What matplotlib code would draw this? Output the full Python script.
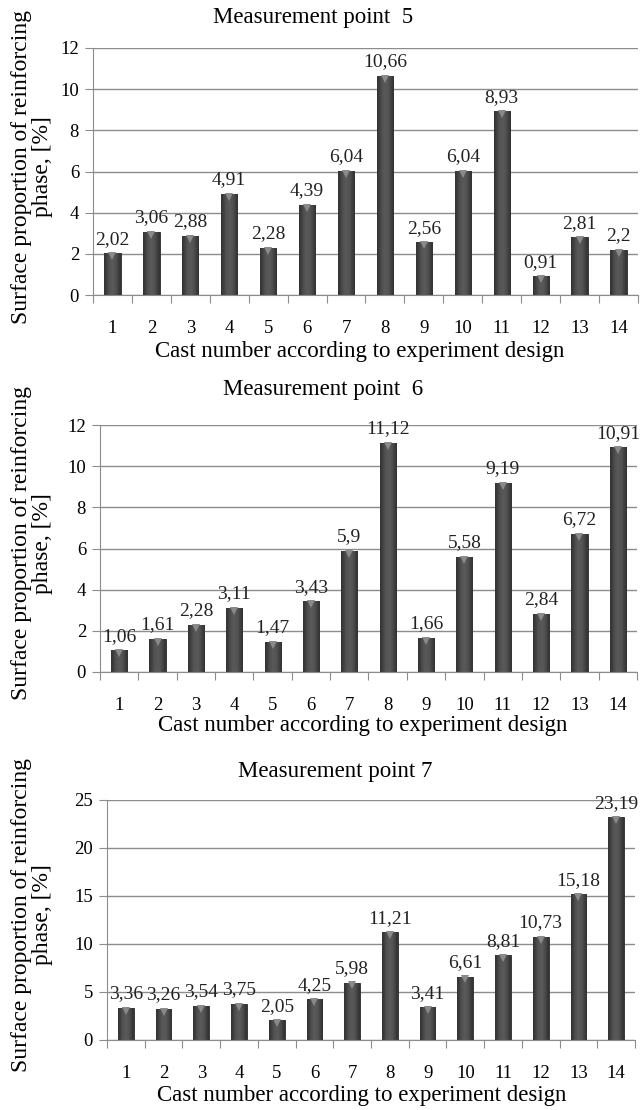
import numpy as np
import matplotlib
matplotlib.use("Agg")
import matplotlib.pyplot as plt

plt.rcParams['font.family'] = ['Liberation Serif', 'DejaVu Serif']

casts = list(range(1, 15))
mp5 = [2.02, 3.06, 2.88, 4.91, 2.28, 4.39, 6.04, 10.66, 2.56, 6.04, 8.93, 0.91, 2.81, 2.2]
mp6 = [1.06, 1.61, 2.28, 3.11, 1.47, 3.43, 5.9, 11.12, 1.66, 5.58, 9.19, 2.84, 6.72, 10.91]
mp7 = [3.36, 3.26, 3.54, 3.75, 2.05, 4.25, 5.98, 11.21, 3.41, 6.61, 8.81, 10.73, 15.18, 23.19]
titles = ["Measurement point  5", "Measurement point  6", "Measurement point 7"]
ymaxes = [12, 12, 25]
ysteps = [2, 2, 5]
xlabel = "Cast number according to experiment design"
ylabel = "Surface proportion of reinforcing\nphase, [%]"

W, H = 641, 1110
fig = plt.figure(figsize=(W / 100, H / 100), dpi=100)

# axes boxes in pixels: left, right, top, bottom
boxes = [(93, 638, 48, 295), (100, 637, 425, 672), (107, 635, 800, 1040)]
title_xy = [(313, 18), (323, 390), (335, 772)]
xlab_xy = [(360, 352), (363, 726), (362, 1095)]

grad = np.array([[0.20, 0.26, 0.31, 0.34, 0.35, 0.34, 0.31, 0.26, 0.20]])

def fmt(v):
    s = ("%.2f" % v).rstrip('0').rstrip('.')
    return s.replace('.', ',')

for i, (vals, t, ym, ys, box, txy, xxy) in enumerate(zip([mp5, mp6, mp7], titles, ymaxes, ysteps, boxes, title_xy, xlab_xy)):
    l, r, tp, bt = box
    ax = fig.add_axes([l / W, 1 - bt / H, (r - l) / W, (bt - tp) / H])
    ax.set_xlim(0.5, 14.5)
    ax.set_ylim(0, ym)
    ax.set_yticks(np.arange(0, ym + 0.01, ys))
    ax.yaxis.grid(True, color='#8c8c8c', linewidth=1.0)
    ax.set_axisbelow(True)
    for s in ['top', 'right']:
        ax.spines[s].set_visible(False)
    ax.spines['left'].set_color('#8c8c8c')
    ax.spines['bottom'].set_color('#8c8c8c')
    ax.set_xticks(np.arange(0.5, 15, 1))
    ax.set_xticklabels([])
    ax.set_xticks(casts, minor=True)
    ax.set_xticklabels([str(c) for c in casts], minor=True, fontsize=13.5)
    ax.tick_params(axis='x', which='major', length=6, color='#8c8c8c', direction='out')
    ax.tick_params(axis='x', which='minor', length=0, pad=18)
    ax.tick_params(axis='y', length=6, color='#8c8c8c', labelsize=13.5, pad=4)
    bw = 0.42
    bars = ax.bar(casts, vals, width=bw, color='#4a4a4a', edgecolor='#2a2a2a', linewidth=0.6, zorder=2)
    for b in bars:
        x0, h = b.get_x(), b.get_height()
        im = ax.imshow(grad, cmap='gray', vmin=0, vmax=1, aspect='auto',
                       extent=(x0, x0 + bw, 0, h), zorder=2.5, interpolation='bicubic')
        im.set_clip_path(b)
    ax.plot(casts, [v - ym * 0.012 for v in vals], linestyle='none', marker='v',
            markersize=6, color='#8a8a8a', markeredgewidth=0, zorder=3)
    for c, v in zip(casts, vals):
        ax.annotate(fmt(v), (c, v), xytext=(0, 4), textcoords='offset points',
                    ha='center', va='bottom', fontsize=14, color='#222222', zorder=4)
    ax.set_xlim(0.5, 14.5)
    ax.set_ylim(0, ym)
    fig.text(txy[0] / W, 1 - txy[1] / H, t, ha='center', va='center', fontsize=16.5)
    fig.text(xxy[0] / W, 1 - xxy[1] / H, xlabel, ha='center', va='center', fontsize=16.5)
    fig.text(32 / W, 1 - ((tp + bt) / 2 - 5) / H, ylabel, rotation=90, ha='center', va='center',
             fontsize=17, linespacing=1.0, multialignment='center')

fig.savefig("out.png", dpi=100)
